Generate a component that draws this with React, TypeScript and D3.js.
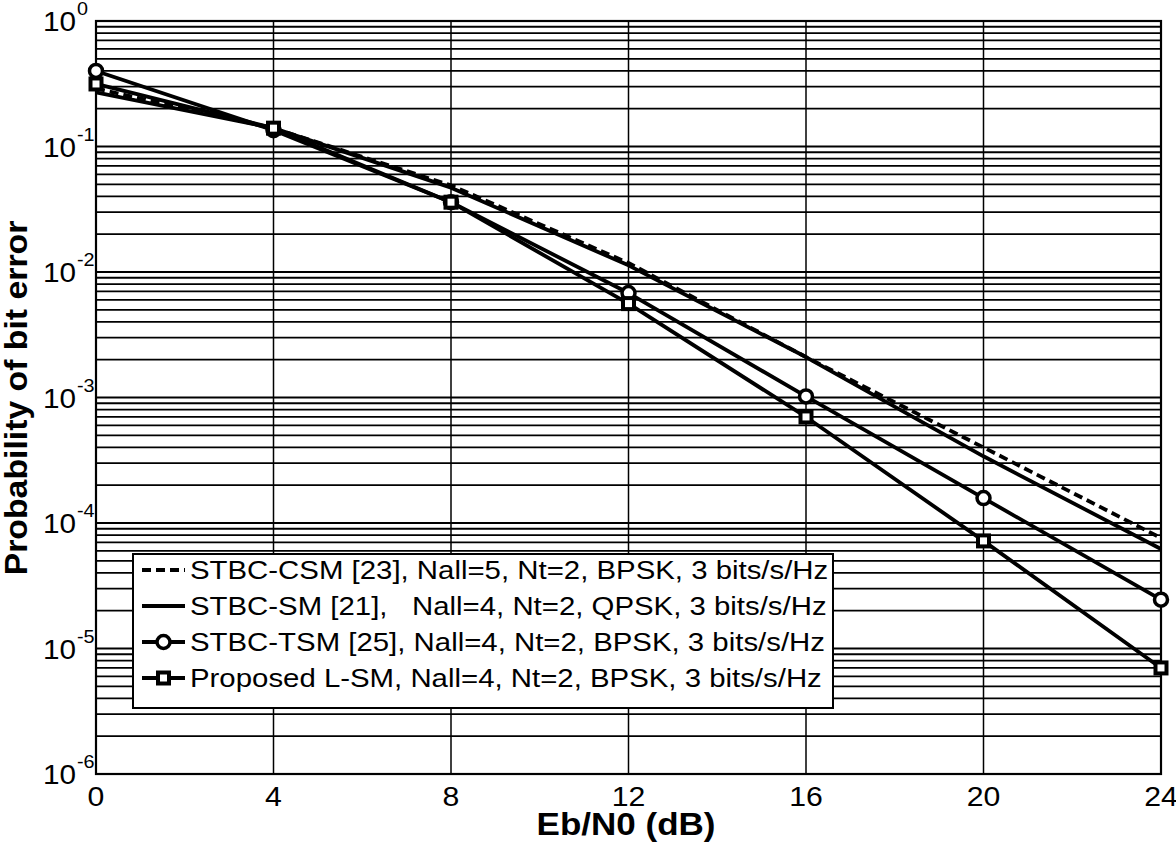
import React, { useEffect, useRef } from "react";
import * as d3 from "d3";

const snr = [0, 4, 8, 12, 16, 20, 24];
const csm = [0.29, 0.14, 0.049, 0.0118, 0.0021, 0.0004, 7.6e-5];
const sm = [0.27, 0.14, 0.047, 0.0113, 0.0021, 0.00034, 6.2e-5];
const tsm = [0.4, 0.135, 0.036, 0.0068, 0.00102, 0.000158, 2.45e-5];
const lsm = [0.315, 0.14, 0.036, 0.0056, 0.0007, 7.2e-5, 7e-6];
const xTicks = [0, 4, 8, 12, 16, 20, 24];
const yExps = [0, -1, -2, -3, -4, -5, -6];
const legendLabels = [
  "STBC-CSM [23], Nall=5, Nt=2, BPSK, 3 bits/s/Hz",
  "STBC-SM [21],   Nall=4, Nt=2, QPSK, 3 bits/s/Hz",
  "STBC-TSM [25], Nall=4, Nt=2, BPSK, 3 bits/s/Hz",
  "Proposed L-SM, Nall=4, Nt=2, BPSK, 3 bits/s/Hz",
];

export default function App() {
  const ref = useRef<SVGSVGElement>(null);
  useEffect(() => {
    document.body.style.margin = "0";
    const svg = d3.select(ref.current);
    svg.selectAll("*").remove();
    const L = 96, R = 1161, T = 21, B = 774;
    const x = d3.scaleLinear().domain([0, 24]).range([L, R]);
    const y = d3.scaleLog().domain([1e-6, 1]).range([B, T]);
    const font = "'Liberation Sans', Arial, Helvetica, sans-serif";

    svg.append("rect").attr("x", 0).attr("y", 0).attr("width", 1176).attr("height", 842).attr("fill", "white");

    const g = svg.append("g");
    const txt = (tx: number, ty: number, s: string, size: number, anchor: string, sx = 1.12, bold = false, rot = 0) =>
      g.append("text")
        .attr("transform", `translate(${tx},${ty})${rot ? ` rotate(${rot})` : ""} scale(${sx},1)`)
        .attr("text-anchor", anchor).attr("font-family", font).attr("font-size", size)
        .attr("font-weight", bold ? "bold" : "normal")
        .attr("xml:space", "preserve").style("white-space", "pre")
        .text(s);

    // horizontal grid
    const hvals: number[] = [];
    for (let e = -6; e < 0; e++) for (let m = 1; m < 10; m++) hvals.push(m * Math.pow(10, e));
    g.selectAll("line.h").data(hvals).enter().append("line")
      .attr("x1", L).attr("x2", R)
      .attr("y1", (d) => y(d)).attr("y2", (d) => y(d))
      .attr("stroke", "#000").attr("stroke-width", 1.8);
    // vertical grid
    g.selectAll("line.v").data(xTicks.slice(1, -1)).enter().append("line")
      .attr("x1", (d) => x(d)).attr("x2", (d) => x(d))
      .attr("y1", T).attr("y2", B)
      .attr("stroke", "#000").attr("stroke-width", 1.5);
    // frame
    g.append("rect").attr("x", L).attr("y", T).attr("width", R - L).attr("height", B - T)
      .attr("fill", "none").attr("stroke", "#000").attr("stroke-width", 2.2);

    // x tick labels
    xTicks.forEach((d) => txt(x(d), 806, String(d), 27, "middle"));
    // y tick labels
    yExps.forEach((e) => {
      const yy = y(Math.pow(10, e));
      txt(76, yy + 10, "10", 27, "end", 1.1);
      txt(77, yy - 6, String(e), 18, "start", 1.1);
    });

    // axis labels
    txt(626, 835, "Eb/N0 (dB)", 31, "middle", 1.13, true);
    txt(27, 398, "Probability of bit error", 31, "middle", 1.09, true, -90);

    const line = d3.line<[number, number]>().x((d) => x(d[0])).y((d) => y(d[1]));
    const mk = (arr: number[]) => snr.map((s, i) => [s, arr[i]] as [number, number]);
    const series = [
      { data: csm, dash: "9,5", marker: "none" },
      { data: sm, dash: null, marker: "none" },
      { data: tsm, dash: null, marker: "circle" },
      { data: lsm, dash: null, marker: "square" },
    ];
    series.forEach((s) => {
      const p = g.append("path").attr("d", line(mk(s.data)) as string)
        .attr("fill", "none").attr("stroke", "#000").attr("stroke-width", 3.8)
        .attr("stroke-linejoin", "round");
      if (s.dash) p.attr("stroke-dasharray", s.dash);
    });
    // markers
    g.selectAll("circle.m").data(mk(tsm)).enter().append("circle")
      .attr("cx", (d) => x(d[0])).attr("cy", (d) => y(d[1])).attr("r", 6.5)
      .attr("fill", "white").attr("stroke", "#000").attr("stroke-width", 3.5);
    g.selectAll("rect.m").data(mk(lsm)).enter().append("rect")
      .attr("x", (d) => x(d[0]) - 5.5).attr("y", (d) => y(d[1]) - 5.5).attr("width", 11).attr("height", 11)
      .attr("fill", "white").attr("stroke", "#000").attr("stroke-width", 4);

    // legend
    const lx = 133, ly = 554, lw = 700, lh = 154;
    g.append("rect").attr("x", lx).attr("y", ly).attr("width", lw).attr("height", lh)
      .attr("fill", "white").attr("stroke", "#000").attr("stroke-width", 2);
    legendLabels.forEach((lab, i) => {
      const cy = 570 + i * 36;
      const s = series[i];
      const p = g.append("line").attr("x1", 142).attr("x2", 185).attr("y1", cy).attr("y2", cy)
        .attr("stroke", "#000").attr("stroke-width", 3.8);
      if (s.dash) p.attr("stroke-dasharray", "9,5");
      if (s.marker === "circle") {
        g.append("circle").attr("cx", 163.5).attr("cy", cy).attr("r", 6.5)
          .attr("fill", "white").attr("stroke", "#000").attr("stroke-width", 3.5);
      } else if (s.marker === "square") {
        g.append("rect").attr("x", 158).attr("y", cy - 5.5).attr("width", 11).attr("height", 11)
          .attr("fill", "white").attr("stroke", "#000").attr("stroke-width", 4);
      }
      txt(190, cy + 9, lab, 26, "start", 1.13);
    });
  }, []);
  return <svg ref={ref} width={1176} height={842} style={{ display: "block" }} />;
}
